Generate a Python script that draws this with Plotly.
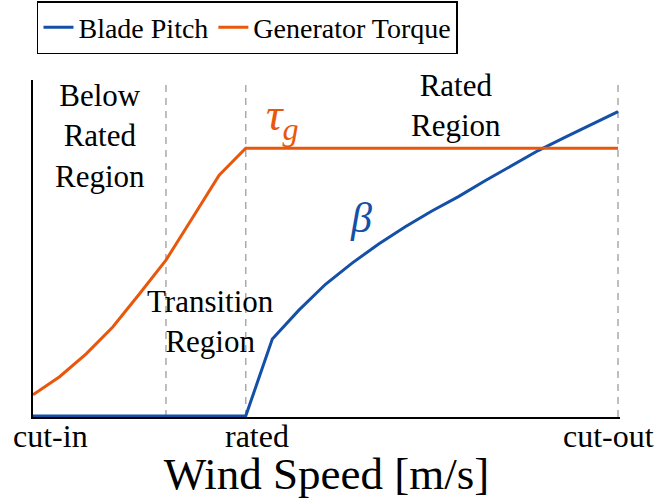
import plotly.graph_objects as go

# Wind speed [m/s]
torque_x = [3, 4, 5, 6, 7, 8, 9, 10, 11, 25]
torque_y = [0.063, 0.117, 0.185, 0.265, 0.363, 0.464, 0.590, 0.717, 0.797, 0.797]

pitch_x = [3, 11, 12, 13, 14, 15, 16, 17, 18, 19, 20, 21, 22, 23, 24, 25]
pitch_y = [0.0, 0.0, 0.229, 0.315, 0.392, 0.455, 0.512, 0.563, 0.610, 0.653,
           0.700, 0.745, 0.790, 0.829, 0.867, 0.906]

tick_vals = [3, 11, 25]
tick_labels = ["cut-in", "rated", "cut-out"]
region_bounds = [8, 11, 25]

BLUE = "#1550A8"
ORANGE = "#E8580C"
SERIF = "Liberation Serif"

fig = go.Figure()
fig.add_trace(go.Scatter(x=pitch_x, y=pitch_y, mode="lines", name="Blade Pitch",
                         line=dict(color=BLUE, width=3)))
fig.add_trace(go.Scatter(x=torque_x, y=torque_y, mode="lines", name="Generator Torque",
                         line=dict(color=ORANGE, width=3)))

for xb in region_bounds:
    fig.add_shape(type="line", xref="x", yref="paper", x0=xb, x1=xb, y0=0, y1=1,
                  line=dict(color="#aaaaaa", width=1.5, dash="7px,6px"), layer="below")

# tick labels (offset like the original)
shifts = [17, 11, -10]
for v, t, s in zip(tick_vals, tick_labels, shifts):
    fig.add_annotation(x=v, xref="x", y=0, yref="paper", yanchor="top", yshift=1,
                       xshift=s, text=t, showarrow=False,
                       font=dict(family=SERIF, size=32, color="black"))

region_texts = ["Below<br>Rated<br>Region", "Rated<br>Region", "Transition<br>Region"]
region_x = [5.52, 18.9, 9.69]
region_y = [0.834, 0.923, 0.282]
for t, xx, yy in zip(region_texts, region_x, region_y):
    fig.add_annotation(x=xx, xref="x", y=yy, yref="paper", text=t, showarrow=False,
                       yanchor="middle",
                       font=dict(family=SERIF, size=31, color="black"))

fig.add_annotation(x=12.4, xref="x", y=0.98, yref="paper", text="<i>τ<sub>g</sub></i>",
                   showarrow=False, font=dict(family=SERIF, size=46, color=ORANGE))
fig.add_annotation(x=15.35, xref="x", y=0.59, yref="paper", text="<i>β</i>",
                   showarrow=False, font=dict(family=SERIF, size=42, color=BLUE))

fig.update_layout(
    width=659, height=499,
    margin=dict(l=33, r=39, t=80, b=82, autoexpand=False),
    plot_bgcolor="white", paper_bgcolor="white",
    font=dict(family=SERIF, color="black"),
    showlegend=True,
    legend=dict(orientation="h", x=0.0068, y=1.2344, xanchor="left", yanchor="top",
                bordercolor="black", borderwidth=1.5, bgcolor="white",
                font=dict(family=SERIF, size=28, color="black"),
                tracegroupgap=0),
    xaxis=dict(range=[3, 25.075], showgrid=False, zeroline=False, showline=True,
               linecolor="black", linewidth=2, showticklabels=False, ticks="",
               layer="below traces",
               title=dict(text="Wind Speed [m/s]", standoff=41,
                          font=dict(family=SERIF, size=45, color="black"))),
    yaxis=dict(range=[-1/336, 1], showgrid=False, zeroline=False, showline=True,
               linecolor="black", linewidth=2, showticklabels=False, ticks="",
               layer="below traces"),
)

fig.write_html("out.html")
